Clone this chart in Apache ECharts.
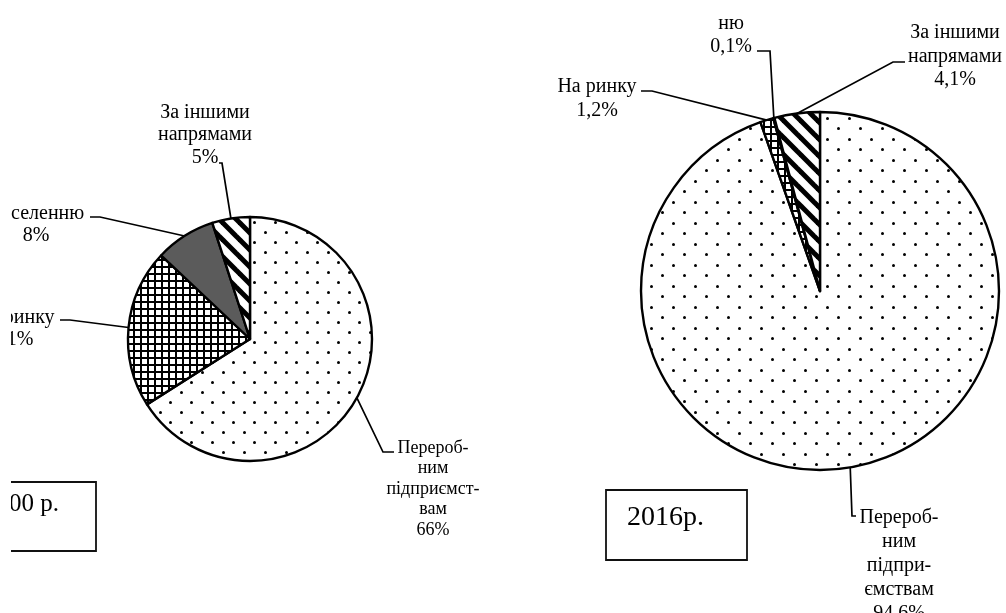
<!DOCTYPE html>
<html>
<head>
<meta charset="utf-8">
<script src="https://cdn.jsdelivr.net/npm/echarts@6/dist/echarts.min.js"></script>
<style>
  html, body { margin: 0; padding: 0; background: #fff; }
  #chart { position: absolute; left: 0; top: 0; width: 1006px; height: 613px; clip-path: inset(10px 0 0 11px); }
</style>
</head>
<body>
<div id="chart"></div>
<script>
// Напрями реалізації продукції (структура, %)
const categories = ['Переробним підприємствам', 'На ринку', 'Населенню', 'За іншими напрямами'];
const labels2000 = ['Перероб-\nним\nпідприємст-\nвам', 'На ринку', 'Населенню', 'За іншими\nнапрямами'];
const labels2016 = ['Перероб-\nним\nпідпри-\nємствам', 'На ринку', 'Населен-\nню', 'За іншими\nнапрямами'];
const values2000 = [66, 21, 8, 5];
const values2016 = [94.6, 1.2, 0.1, 4.1];
const years = ['2000 р.', '2016р.'];

// hatch fills drawn into small repeating tiles
function tile(w, h, draw) {
  const c = document.createElement('canvas');
  c.width = w; c.height = h;
  const g = c.getContext('2d');
  g.fillStyle = '#fff';
  g.fillRect(0, 0, w, h);
  draw(g, w, h);
  return { image: c, repeat: 'repeat' };
}
function dotTile(w, h) {
  return tile(w, h, (g) => {
    g.fillStyle = '#000';
    g.beginPath(); g.arc(2.5, 2.5, 1.5, 0, Math.PI * 2); g.fill();
    g.beginPath(); g.arc(2.5 + Math.round(w / 2), 2.5 + Math.round(h / 2), 1.5, 0, Math.PI * 2); g.fill();
  });
}
const gridFill = tile(7, 7, (g) => {
  g.fillStyle = '#000';
  g.fillRect(0, 0, 7, 2);
  g.fillRect(0, 0, 2, 7);
});
const stripeFill = tile(17, 17, (g, w, h) => {
  g.strokeStyle = '#000';
  g.lineWidth = 5;
  for (let k = -1; k <= 1; k++) {
    g.beginPath();
    g.moveTo(k * w - 3, -3);
    g.lineTo(k * w + w + 3, h + 3);
    g.stroke();
  }
});
const fills2000 = [dotTile(21, 20), gridFill, '#5b5b5b', stripeFill];
const fills2016 = [dotTile(22, 21), gridFill, '#5b5b5b', stripeFill];

const fmt = (v) => String(v).replace('.', ',');
const FONT = 'Liberation Serif';

// label boxes (centre x, top y) and the bends of their leader lines
const place2000 = [
  { x: 433, y: 438, fontSize: 18, lineHeight: 20.5, line: [[383, 452], [394, 452]] },
  { x: 15, y: 306, fontSize: 20, lineHeight: 22.5, line: [[70, 320], [60, 320]] },
  { x: 36, y: 202, fontSize: 20, lineHeight: 22.5, line: [[100, 217], [90, 217]] },
  { x: 205, y: 101, fontSize: 20, lineHeight: 22.5, line: [[222, 163], [219, 163]] }
];
const place2016 = [
  { x: 899, y: 506, fontSize: 20, lineHeight: 24, line: [[852, 516], [856, 516]] },
  { x: 597, y: 75, fontSize: 20, lineHeight: 23.5, line: [[652, 91], [641, 91]] },
  { x: 731, y: -12, fontSize: 20, lineHeight: 23.5, line: [[770, 51], [757, 51]] },
  { x: 955, y: 21, fontSize: 20, lineHeight: 23.5, line: [[893, 62], [905, 62]] }
];

function pieSeries(values, texts, fills, center, radius, place) {
  return {
    type: 'pie',
    center: center,
    radius: radius,
    startAngle: 90,
    clockwise: true,
    avoidLabelOverlap: false,
    silent: true,
    animation: false,
    itemStyle: { borderColor: '#000', borderWidth: 2.4 },
    data: values.map((v, i) => ({
      name: categories[i],
      value: v,
      itemStyle: { color: fills[i] },
      label: { fontSize: place[i].fontSize, lineHeight: place[i].lineHeight }
    })),
    label: {
      show: true,
      position: 'outside',
      color: '#000',
      fontFamily: FONT,
      formatter: (p) => texts[p.dataIndex] + '\n' + fmt(p.value) + '%'
    },
    labelLine: { show: true, length: 10, length2: 10, smooth: false, lineStyle: { color: '#000', width: 1.7 } },
    labelLayout: function (p) {
      const s = place[p.dataIndex];
      const start = p.labelLinePoints ? p.labelLinePoints[0] : s.line[0];
      return {
        x: s.x,
        y: s.y,
        align: 'center',
        verticalAlign: 'top',
        labelLinePoints: [start].concat(s.line)
      };
    }
  };
}

const chart = echarts.init(document.getElementById('chart'), null, { renderer: 'canvas' });
chart.setOption({
  backgroundColor: '#fff',
  animation: false,
  title: [
    {
      text: years[0], right: 910, top: 482,
      padding: [10, 37, 34, 20],
      borderColor: '#111', borderWidth: 1.8,
      textStyle: { fontFamily: FONT, fontSize: 25, lineHeight: 25, fontWeight: 'normal', color: '#000' }
    },
    {
      text: years[1], left: 606, top: 490,
      padding: [14, 43, 28, 21],
      borderColor: '#111', borderWidth: 1.8,
      textStyle: { fontFamily: FONT, fontSize: 28, lineHeight: 28, fontWeight: 'normal', color: '#000' }
    }
  ],
  series: [
    pieSeries(values2000, labels2000, fills2000, [250, 339], 122, place2000),
    pieSeries(values2016, labels2016, fills2016, [820, 291], 179, place2016)
  ]
});
</script>
</body>
</html>
